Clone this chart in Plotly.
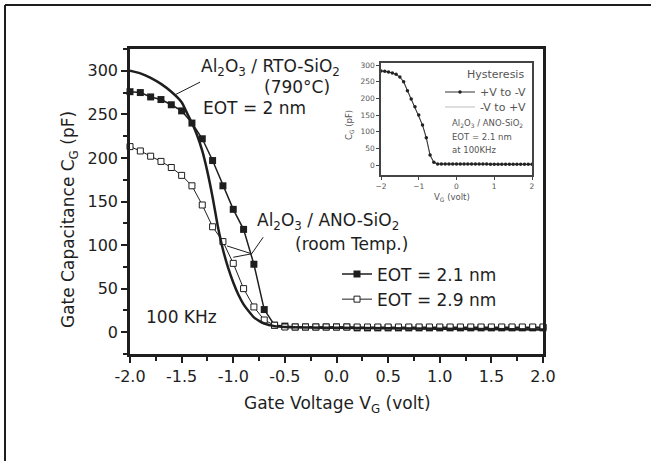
import plotly.graph_objects as go

# ---------------- data ----------------
V = [-2.0, -1.9, -1.8, -1.7, -1.6, -1.5, -1.4, -1.3, -1.2, -1.1, -1.0, -0.9, -0.8, -0.7,
     -0.6, -0.5, -0.4, -0.3, -0.2, -0.1, 0.0, 0.1, 0.2, 0.3, 0.4, 0.5, 0.6, 0.7, 0.8,
     0.9, 1.0, 1.1, 1.2, 1.3, 1.4, 1.5, 1.6, 1.7, 1.8, 1.9, 2.0]

eot21 = [276, 275, 270, 267, 261, 254, 240, 222, 197, 168, 141, 118, 78, 26,
         8, 7, 6, 6, 6, 6, 6, 6, 5, 5, 5, 5, 5, 5, 5,
         5, 5, 5, 5, 5, 5, 5, 5, 5, 5, 5, 5]

eot29 = [213, 208, 202, 196, 189, 180, 168, 146, 121, 104, 79, 50, 29, 14,
         8, 6, 6, 6, 6, 6, 6, 6, 6, 6, 6, 6, 6, 6, 6,
         6, 6, 6, 6, 6, 6, 6, 6, 6, 6, 6, 6]

rto_V = [-2.0, -1.9, -1.8, -1.7, -1.6, -1.5, -1.45, -1.4, -1.35, -1.3, -1.25, -1.2, -1.15,
         -1.1, -1.05, -1.0, -0.95, -0.9, -0.85, -0.8, -0.75, -0.7, -0.6, -0.5, 0.0, 1.0, 2.0]
rto = [300, 297, 292, 285, 276, 264, 252, 240, 226, 208, 184, 155, 122,
       95, 74, 57, 43, 32, 24, 17, 13, 10, 7, 6, 5, 4, 3]

inset_down = [282, 281, 279, 276, 272, 264, 250, 223, 198, 175, 150, 120, 82, 30,
              8, 3, 3, 3, 3, 3, 3, 3, 3, 3, 3, 3, 3, 3, 3,
              2, 2, 2, 2, 2, 2, 2, 2, 2, 2, 2, 2]
inset_up = [283, 281, 279, 276, 271, 263, 249, 222, 197, 173, 148, 118, 79, 28,
            7, 3, 3, 3, 3, 3, 3, 3, 3, 3, 3, 3, 3, 3, 3,
            2, 2, 2, 2, 2, 2, 2, 2, 2, 2, 2, 2]

x_ticks = [-2.0, -1.5, -1.0, -0.5, 0.0, 0.5, 1.0, 1.5, 2.0]
x_ticklabels = ["-2.0", "-1.5", "-1.0", "-0.5", "0.0", "0.5", "1.0", "1.5", "2.0"]
y_ticks = [0, 50, 100, 150, 200, 250, 300]
inset_x_ticks = [-2, -1, 0, 1, 2]
inset_y_ticks = [0, 50, 100, 150, 200, 250, 300]

# ---------------- layout helpers ----------------
W, H = 651, 461
L, R, T, B = 130, 543, 49, 354
FONT = "DejaVu Sans"
INK = "#1e1e1e"
GRAY = "#555555"


def px_x(px):
    return (px - L) / (R - L)


def px_y(py):
    return (B - py) / (B - T)


fig = go.Figure()

fig.add_trace(go.Scatter(
    x=V, y=eot21, mode="lines+markers", name="EOT = 2.1 nm",
    line=dict(color=INK, width=1.5),
    marker=dict(symbol="square", size=7, color=INK),
    cliponaxis=False))
fig.add_trace(go.Scatter(
    x=V, y=eot29, mode="lines+markers", name="EOT = 2.9 nm",
    line=dict(color=INK, width=1),
    marker=dict(symbol="square", size=6, color="white", line=dict(color=INK, width=1)),
    cliponaxis=False))
fig.add_trace(go.Scatter(
    x=rto_V, y=rto, mode="lines", showlegend=False,
    line=dict(color=INK, width=2.5, shape="spline", smoothing=0.6)))

# inset traces (each with its own one-item legend)
fig.add_trace(go.Scatter(
    x=V, y=inset_up, mode="lines", name="-V to +V", legend="legend3",
    xaxis="x2", yaxis="y2", line=dict(color="#bdbdbd", width=1.2)))
fig.add_trace(go.Scatter(
    x=V, y=inset_down, mode="lines+markers", name="+V to -V", legend="legend2",
    xaxis="x2", yaxis="y2", line=dict(color="#333", width=1),
    marker=dict(symbol="circle", size=3.5, color="#222")))

axis_common = dict(showline=True, linecolor=INK, linewidth=2.5, mirror=True,
                   ticks="outside", tickcolor=INK, tickwidth=2, ticklen=6,
                   showgrid=False, zeroline=False,
                   tickfont=dict(family=FONT, size=16, color=INK))
inset_axis = dict(showline=True, linecolor="#444", linewidth=1.5, mirror=True,
                  ticks="outside", ticklen=3, tickcolor="#444", showgrid=False,
                  zeroline=False, tickfont=dict(family=FONT, size=7.5, color=GRAY))

legend_small = dict(xanchor="left", yanchor="middle", bgcolor="rgba(0,0,0,0)",
                    font=dict(family=FONT, size=11, color=GRAY), tracegroupgap=0)

fig.update_layout(
    width=W, height=H,
    margin=dict(l=L, r=W - R, t=T, b=H - B),
    paper_bgcolor="white", plot_bgcolor="white",
    font=dict(family=FONT, color=INK),
    xaxis=dict(range=[-2.0, 2.0], tickvals=x_ticks, ticktext=x_ticklabels,
               minor=dict(dtick=0.25, tick0=0, ticks="outside", ticklen=4,
                          tickcolor=INK, tickwidth=1.5),
               **axis_common),
    yaxis=dict(range=[-25, 325], tickvals=y_ticks,
               minor=dict(dtick=25, tick0=0, ticks="outside", ticklen=4,
                          tickcolor=INK, tickwidth=1.5),
               **axis_common),
    xaxis2=dict(domain=[px_x(381), px_x(532)], anchor="y2", range=[-2, 2],
                tickvals=inset_x_ticks, **inset_axis),
    yaxis2=dict(domain=[px_y(175), px_y(63)], anchor="x2", range=[-30, 306],
                tickvals=inset_y_ticks, **inset_axis),
    legend=dict(x=px_x(337), y=px_y(287), xanchor="left", yanchor="middle",
                bgcolor="rgba(0,0,0,0)", font=dict(family=FONT, size=17, color=INK),
                tracegroupgap=0),
    legend2=dict(x=px_x(440), y=px_y(92), **legend_small),
    legend3=dict(x=px_x(440), y=px_y(107), **legend_small),
)

ann = []


def txt(text, px, py, size=17, xanchor="left", angle=0, color=INK):
    ann.append(dict(text=text, x=px_x(px), y=px_y(py), xref="paper", yref="paper",
                    xanchor=xanchor, yanchor="middle", showarrow=False, textangle=angle,
                    font=dict(family=FONT, size=size, color=color)))


txt("Al<sub>2</sub>O<sub>3</sub> / RTO-SiO<sub>2</sub>", 199, 67)
txt("(790°C)", 262, 87)
txt("EOT = 2 nm", 201, 108)
txt("Al<sub>2</sub>O<sub>3</sub> / ANO-SiO<sub>2</sub>", 255, 221)
txt("(room Temp.)", 293, 244)
txt("100 KHz", 144, 317)
txt("Gate Voltage V<sub>G</sub> (volt)", 337, 404, xanchor="center")
txt("Gate Capacitance C<sub>G</sub> (pF)", 69, 220, xanchor="center", angle=-90)
# inset texts
txt("Hysteresis", 526, 74, size=11, xanchor="right", color=GRAY)
txt("Al<sub>2</sub>O<sub>3</sub> / ANO-SiO<sub>2</sub>", 450, 123, size=8.5, color=GRAY)
txt("EOT = 2.1 nm", 450, 137, size=8.5, color=GRAY)
txt("at 100KHz", 450, 150, size=8.5, color=GRAY)
txt("V<sub>G</sub> (volt)", 452, 197, size=8.5, xanchor="center", color=GRAY)
txt("C<sub>G</sub> (pF)", 349, 125, size=8.5, xanchor="center", angle=-90, color=GRAY)
fig.update_layout(annotations=ann)

shapes = [
    # pointer for RTO curve
    dict(type="line", xref="x", yref="y", x0=-1.322, y0=287, x1=-1.554, y1=273,
         line=dict(color=INK, width=1)),
    # fork pointer for ANO curves
    dict(type="line", xref="x", yref="y", x0=-0.71, y0=109, x1=-0.822, y1=90,
         line=dict(color=INK, width=1)),
    dict(type="line", xref="x", yref="y", x0=-0.822, y0=90, x1=-1.06, y1=99,
         line=dict(color=INK, width=1)),
    dict(type="line", xref="x", yref="y", x0=-0.822, y0=90, x1=-1.0, y1=86,
         line=dict(color=INK, width=1)),
    # outer frame (left and top visible)
    dict(type="line", xref="paper", yref="paper", x0=px_x(5), y0=px_y(5),
         x1=px_x(W), y1=px_y(5), line=dict(color=INK, width=2)),
    dict(type="line", xref="paper", yref="paper", x0=px_x(5), y0=px_y(5),
         x1=px_x(5), y1=px_y(H), line=dict(color=INK, width=2)),
]
fig.update_layout(shapes=shapes)

fig.write_html("out.html", config={"displayModeBar": False})

# remove the default page margin so the figure sits at the window's top-left corner
with open("out.html", "r", encoding="utf-8") as f:
    html = f.read()
html = html.replace("<head>", "<head><style>html,body{margin:0;padding:0;overflow:hidden;}</style>", 1)
with open("out.html", "w", encoding="utf-8") as f:
    f.write(html)
